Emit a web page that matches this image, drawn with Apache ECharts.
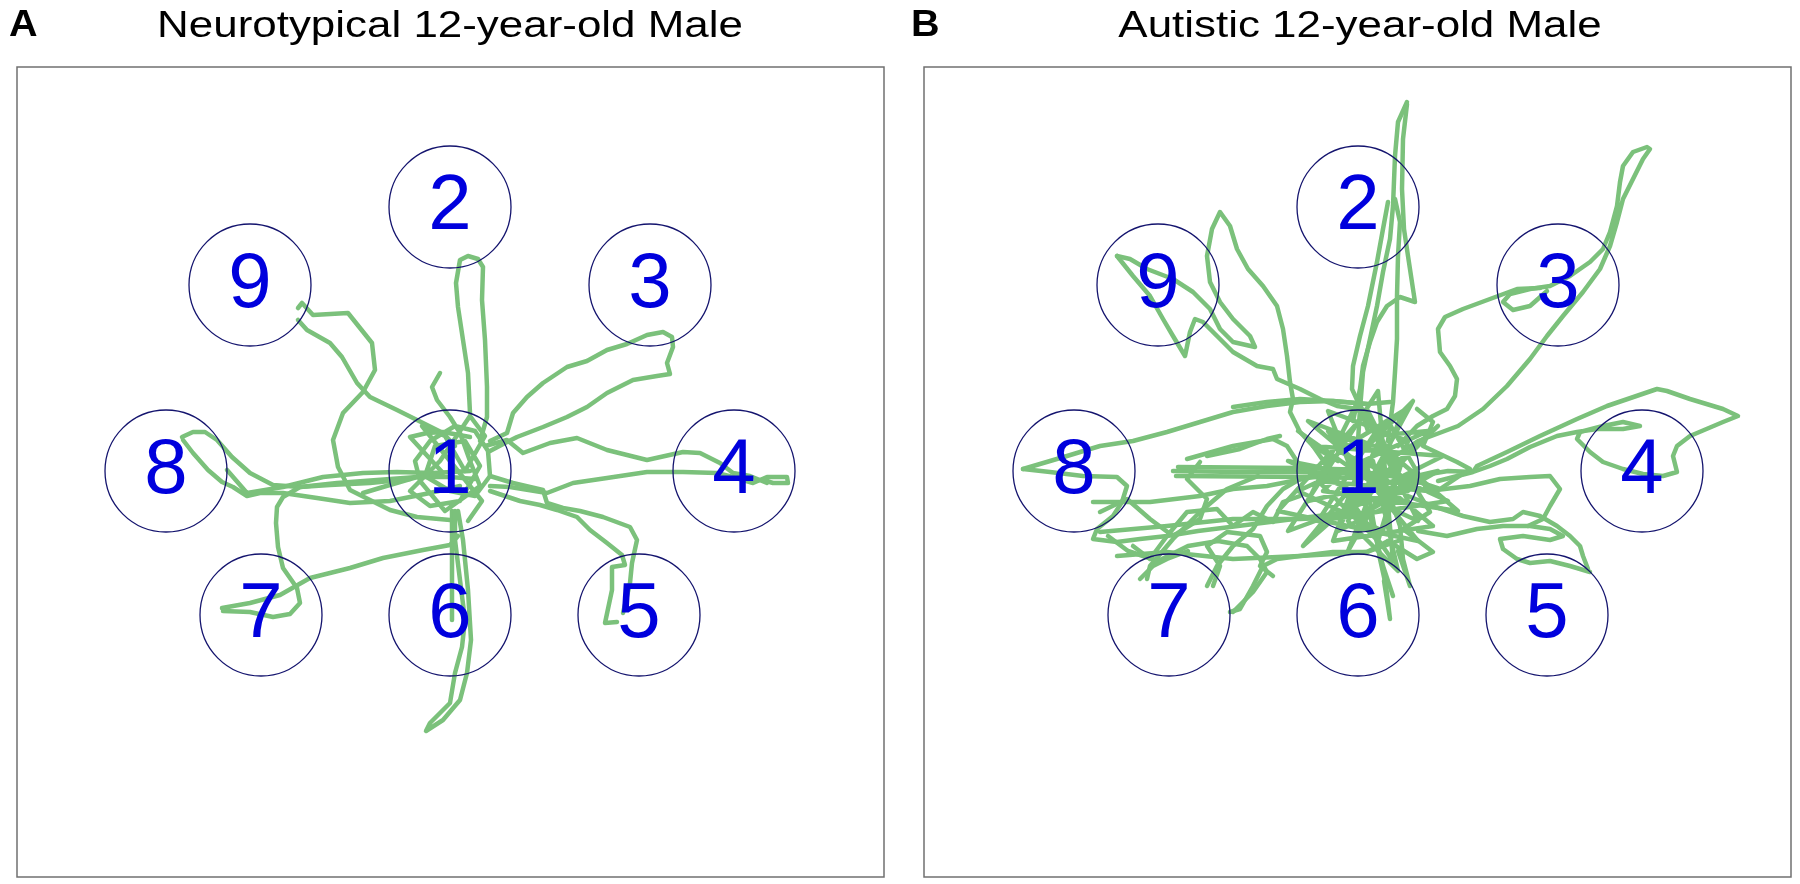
<!DOCTYPE html>
<html>
<head>
<meta charset="utf-8">
<title>Neurotypical vs Autistic 12-year-old Male</title>
<script src="https://cdn.jsdelivr.net/npm/echarts@6/dist/echarts.min.js"></script>
<style>
html,body{margin:0;padding:0;background:#fff;}
#main{width:1800px;height:884px;}
</style>
</head>
<body>
<div id="main"></div>
<script>
// targets, px relative to target 1 (y points down)
var targetNames = ['1','2','3','4','5','6','7','8','9'];
var targetX = [0, 0, 200, 284, 189, 0, -189, -284, -200];
var targetY = [0, -264, -186, 0, 144, 144, 144, 0, -186];

var panelTitles = ['Neurotypical 12-year-old Male', 'Autistic 12-year-old Male'];
var panelLetters = ['A', 'B'];

// ---- panel A strokes ----
var a2 = [[20,-58],[18,-98],[13,-131],[8,-164],[6,-188],[10,-211],[18,-215],[28,-212],[33,-204],[32,-171],[35,-131],[37,-84],[37,-54],[30,-30]];
var a9a = [[-152,-163],[-148,-168],[-137,-156],[-102,-158],[-78,-128],[-75,-101],[-87,-79],[-107,-58],[-117,-31],[-112,-4],[-100,19],[-80,29],[-60,39],[-33,46],[0,49]];
var a9b = [[-152,-151],[-143,-141],[-120,-128],[-108,-114],[-93,-88],[-80,-74],[-53,-61],[-27,-48],[-7,-38],[5,-25]];
var a8a = [[-268,-34],[-257,-39],[-245,-39],[-233,-31],[-218,-14],[-200,2],[-177,14],[-150,16],[-113,12],[-73,9],[-33,6],[0,6],[25,8]];
var a8b = [[-267,-31],[-257,-18],[-242,-1],[-228,11],[-217,16],[-203,25],[-190,22],[-167,22],[-133,27],[-100,32],[-60,30],[-20,22],[10,15]];
var a8c = [[-223,-1],[-203,22],[-167,16],[-127,6],[-87,2],[-53,1],[-17,2],[20,0]];
var aLeft = [[-87,22],[-67,16],[-33,6],[-7,2],[-40,-34],[-23,-38],[-7,-39],[20,-34]];
var a7a = [[-228,137],[-200,132],[-170,124],[-140,107],[-100,97],[-67,87],[-27,79],[0,74],[8,65]];
var a7b = [[-227,140],[-200,141],[-177,146],[-160,143],[-150,132],[-153,117],[-167,97],[-172,76],[-174,52],[-173,36],[-167,26],[-150,16],[-120,14],[-80,12],[-40,8]];
var a6a = [[2,40],[2,52],[2,102],[2,149]];
var a6b = [[5,40],[5,69],[10,109],[15,149],[12,176],[5,202],[0,232],[-20,252],[-24,260],[-7,249],[10,229],[17,202],[21,169],[18,119],[13,69],[8,40]];
var a5a = [[40,5],[63,12],[93,19],[97,32],[113,37],[130,40],[153,46],[180,56],[187,69],[182,92],[180,112],[173,142]];
var a5b = [[40,20],[70,30],[90,34],[107,39],[127,46],[140,59],[157,72],[172,84],[175,94],[162,96],[162,119],[155,152],[167,151]];
var a4a = [[35,-25],[57,-31],[73,-18],[100,-28],[127,-33],[157,-21],[197,-11],[233,-19],[250,-18],[270,-8],[283,2],[300,5],[317,12]];
var a4b = [[40,15],[60,16],[97,22],[123,12],[157,7],[197,1],[233,1],[267,2],[283,6],[303,12],[317,6],[337,6],[338,12],[323,12],[313,9]];
var a3 = [[40,-30],[57,-38],[63,-58],[77,-74],[93,-88],[117,-104],[137,-110],[157,-121],[177,-127],[197,-136],[213,-139],[222,-134],[223,-124],[217,-108],[220,-97],[207,-95],[183,-91],[157,-78],[137,-64],[117,-54],[93,-44],[67,-34],[57,-29],[40,-20]];
var aCore = [[-10,-98],[-18,-84],[-13,-71],[0,-54],[10,-38],[20,-10],[30,15],[-5,40],[-30,10],[-35,-10],[-20,-30],[5,-45],[25,-40],[38,-20],[40,5],[25,25],[0,20],[-25,5],[-15,-25],[15,-30],[30,-5],[10,30],[-20,35],[-40,20],[-10,-10],[20,-55],[35,-35],[15,0],[-5,-35],[-28,-45],[0,-10],[32,30],[18,50]];

// ---- panel B strokes ----
var b2a = [[49,-369],[40,-349],[37,-315],[35,-265],[32,-232],[25,-199],[19,-165],[12,-132],[5,-99],[2,-62],[0,-30]];
var b2b = [[49,-367],[45,-332],[44,-282],[46,-242],[50,-215],[55,-182],[57,-169],[42,-174],[29,-165],[19,-149],[12,-129],[5,-105],[2,-82],[-5,-50]];
var b2c = [[30,-269],[25,-242],[19,-209],[10,-165],[2,-135],[-5,-105],[-6,-82],[0,-69],[10,-40]];
var b2d = [[37,-272],[42,-249],[40,-215],[39,-175],[39,-132],[37,-99],[35,-69],[30,-30]];
var b9a = [[-241,-215],[-228,-212],[-211,-202],[-185,-192],[-165,-179],[-148,-162],[-138,-142],[-125,-129],[-103,-124],[-108,-135],[-125,-152],[-138,-169],[-148,-189],[-151,-215],[-146,-242],[-138,-259],[-128,-245],[-121,-222],[-110,-202],[-95,-185],[-81,-165],[-75,-142],[-71,-115],[-68,-89],[-65,-72],[-68,-59],[-58,-39],[-45,-25],[-20,-10]];
var b9b = [[-241,-215],[-225,-195],[-208,-175],[-195,-152],[-185,-135],[-173,-115],[-168,-139],[-163,-152],[-155,-149],[-141,-135],[-125,-119],[-101,-105],[-85,-102],[-81,-92],[-58,-82],[-38,-72],[-21,-65],[-1,-62],[20,-40]];
var b9c = [[-125,-64],[-91,-69],[-58,-72],[-25,-70],[9,-67],[32,-69]];
var b3a = [[30,-10],[60,-30],[100,-45],[125,-62],[149,-85],[172,-112],[189,-135],[205,-155],[225,-179],[242,-202],[252,-225],[259,-249],[265,-272],[275,-292],[285,-312],[292,-322],[289,-324],[275,-319],[265,-305],[262,-289],[259,-265],[252,-239],[245,-222],[232,-209],[212,-195],[192,-185],[172,-182],[152,-177],[145,-169],[155,-161],[172,-165],[189,-180]];
var b3b = [[182,-183],[159,-182],[132,-172],[105,-162],[87,-154],[80,-142],[82,-119],[92,-105],[99,-92],[97,-75],[89,-62],[75,-55],[59,-45],[40,-25]];
var b4 = [[60,5],[90,0],[115,1],[119,-5],[149,-19],[182,-35],[219,-52],[249,-65],[299,-82],[309,-80],[332,-72],[365,-62],[380,-55],[365,-49],[332,-35],[319,-25],[315,-15],[319,1],[305,5],[285,3],[265,-2],[245,-9],[232,-19],[219,-32],[222,-39],[245,-45],[265,-49],[282,-45],[265,-42],[239,-42],[219,-39],[199,-35],[172,-24],[149,-12],[132,-5],[115,1],[80,10]];
var b5a = [[50,25],[75,35],[105,45],[132,51],[155,48],[165,41],[182,45],[199,55],[212,65],[222,75],[225,85],[230,98]];
var b5b = [[60,60],[89,65],[119,58],[145,55],[172,55],[192,58],[205,65],[192,69],[165,65],[142,68],[145,78],[159,88],[172,92],[192,90],[212,95],[232,101]];
var b5c = [[70,20],[112,15],[142,8],[172,6],[192,5],[202,18],[192,35],[185,48],[170,55]];
var bRight = [[59,-62],[75,-49],[65,-25],[99,-9],[112,-2],[82,18],[52,8],[72,41],[45,58],[75,81],[59,88],[30,70]];
var b8a = [[-335,-2],[-291,-15],[-258,-25],[-225,-30],[-191,-39],[-158,-49],[-125,-59],[-91,-65],[-58,-69],[-25,-70],[9,-67]];
var b8b = [[-335,-2],[-308,1],[-275,5],[-241,6],[-231,15],[-236,31],[-245,45],[-261,58],[-265,68],[-241,71],[-218,68],[-191,65],[-160,60],[-120,55],[-80,50],[-40,45],[0,40]];
var bL1 = [[-185,0],[-120,1],[-58,1],[9,3],[40,2]];
var bL1b = [[-180,-4],[-60,-3],[10,-1]];
var bL1c = [[-182,5],[-50,6],[0,7]];
var bL2 = [[-265,31],[-208,31],[-158,25],[-125,18],[-91,15],[-40,5]];
var bL3 = [[-258,61],[-191,55],[-125,48],[-58,48],[9,45]];
var bL4 = [[-241,85],[-191,81],[-125,88],[-58,85],[9,81],[40,70]];
var bL5 = [[-211,108],[-208,95],[-185,68],[-158,41],[-131,18],[-100,5]];
var bL6 = [[-151,115],[-141,95],[-125,75],[-105,58],[-91,35],[-75,18],[-58,8]];
var bL7 = [[-125,141],[-105,121],[-91,101],[-98,88],[-111,75],[-140,70],[-170,75],[-200,90],[-230,80],[-250,65]];
var bL8 = [[-171,-12],[-125,-25],[-85,-32],[-71,-25],[-58,-5]];
var bL8b = [[-151,-15],[-118,-22],[-91,-32],[-78,-35]];
var bL9 = [[-258,41],[-231,28],[-208,48],[-185,65],[-158,48],[-151,28],[-171,8],[-158,-9]];
var bL10 = [[-225,75],[-208,88],[-191,65],[-171,41],[-141,38],[-125,55],[-105,41],[-85,51],[-75,31],[-58,25]];
var bL11 = [[-145,115],[-138,95],[-151,75],[-131,61],[-98,65],[-91,81],[-98,95],[-85,105]];
var b7a = [[-128,141],[-118,138],[-105,115],[-95,95],[-81,88],[-58,85],[-25,81],[9,81],[30,70]];
var b7b = [[-218,108],[-205,95],[-191,88],[-170,80]];
var b6a = [[10,20],[22,88],[28,115],[32,148],[26,110]];
var b6b = [[0,10],[15,55],[25,95],[35,125]];
var b6c = [[30,20],[42,55],[45,88],[52,115],[40,80]];
var bCore = [[-60,-40],[40,30],[-20,60],[30,-50],[70,20],[-40,10],[20,70],[50,-30],[-30,-60],[10,40],[80,0],[-50,30],[0,-70],[60,50],[-70,-10],[30,10],[-10,80],[45,-60],[-20,-20],[90,30],[-40,50],[15,-35],[70,-40],[-60,20],[25,60],[40,-10],[-30,-40],[60,70],[-80,40],[10,-60],[50,20],[-15,35],[85,-15],[-45,-25],[35,90],[20,-80],[-70,60],[65,10],[0,0],[-25,70],[75,55],[-50,-50],[30,-20],[100,40],[-35,20],[55,-70],[-10,50],[40,100],[15,-10],[-55,75],[80,-45],[5,30]];

var pathsA = [a2, a9a, a9b, a8a, a8b, a8c, aLeft, a7a, a7b, a6a, a6b, a5a, a5b, a4a, a4b, a3, aCore];
var pathsB = [b2a, b2b, b2c, b2d, b9a, b9b, b9c, b3a, b3b, b4, b5a, b5b, b5c, bRight, b8a, b8b,
  bL1, bL1b, bL1c, bL2, bL3, bL4, bL5, bL6, bL7, bL8, bL8b, bL9, bL10, bL11, b7a, b7b, b6a, b6b, b6c, bCore];

var pathColor = '#7bc17b';
var fontName = '"Liberation Sans", Arial, sans-serif';

function strokeSeries(pts, idx) {
  return {
    type: 'line', xAxisIndex: idx, yAxisIndex: idx, data: pts,
    showSymbol: false, symbol: 'none', silent: true, z: 2,
    lineStyle: {color: pathColor, width: 4.5, cap: 'round', join: 'round'}
  };
}

function targetSeries(idx) {
  return {
    type: 'scatter', xAxisIndex: idx, yAxisIndex: idx, silent: true, z: 5,
    symbol: 'circle', symbolSize: 122,
    data: targetNames.map(function (n, i) { return {name: n, value: [targetX[i], targetY[i]]}; }),
    itemStyle: {color: 'rgba(0,0,0,0)', borderColor: '#14146e', borderWidth: 1.3, opacity: 1},
    label: {show: true, position: 'inside', formatter: '{b}', fontSize: 78,
            color: '#0000dd', fontFamily: fontName, textBorderWidth: 0}
  };
}

var series = [];
pathsA.forEach(function (p) { series.push(strokeSeries(p, 0)); });
pathsB.forEach(function (p) { series.push(strokeSeries(p, 1)); });
series.push(targetSeries(0));
series.push(targetSeries(1));

var myChart = echarts.init(document.getElementById('main'));
var option = {
  animation: false,
  backgroundColor: '#fff',
  grid: [
    {left: 17, top: 67, width: 867, height: 810, show: true, borderColor: '#707070', borderWidth: 1.5},
    {left: 924, top: 67, width: 867, height: 810, show: true, borderColor: '#707070', borderWidth: 1.5}
  ],
  xAxis: [
    {type: 'value', gridIndex: 0, min: -433, max: 434, show: false},
    {type: 'value', gridIndex: 1, min: -434, max: 433, show: false}
  ],
  yAxis: [
    {type: 'value', gridIndex: 0, min: -404, max: 406, inverse: true, show: false},
    {type: 'value', gridIndex: 1, min: -404, max: 406, inverse: true, show: false}
  ],
  graphic: [
    {type: 'text', x: 9, y: 26, scaleX: 1.1, style: {text: panelLetters[0], fill: '#000', font: 'bold 36px ' + fontName, textAlign: 'left', textVerticalAlign: 'middle'}},
    {type: 'text', x: 911, y: 26, scaleX: 1.1, style: {text: panelLetters[1], fill: '#000', font: 'bold 36px ' + fontName, textAlign: 'left', textVerticalAlign: 'middle'}},
    {type: 'text', x: 450, y: 27, scaleX: 1.22, style: {text: panelTitles[0], fill: '#000', font: '36px ' + fontName, textAlign: 'center', textVerticalAlign: 'middle'}},
    {type: 'text', x: 1360, y: 27, scaleX: 1.22, style: {text: panelTitles[1], fill: '#000', font: '36px ' + fontName, textAlign: 'center', textVerticalAlign: 'middle'}}
  ],
  series: series
};
myChart.setOption(option);
</script>
</body>
</html>
